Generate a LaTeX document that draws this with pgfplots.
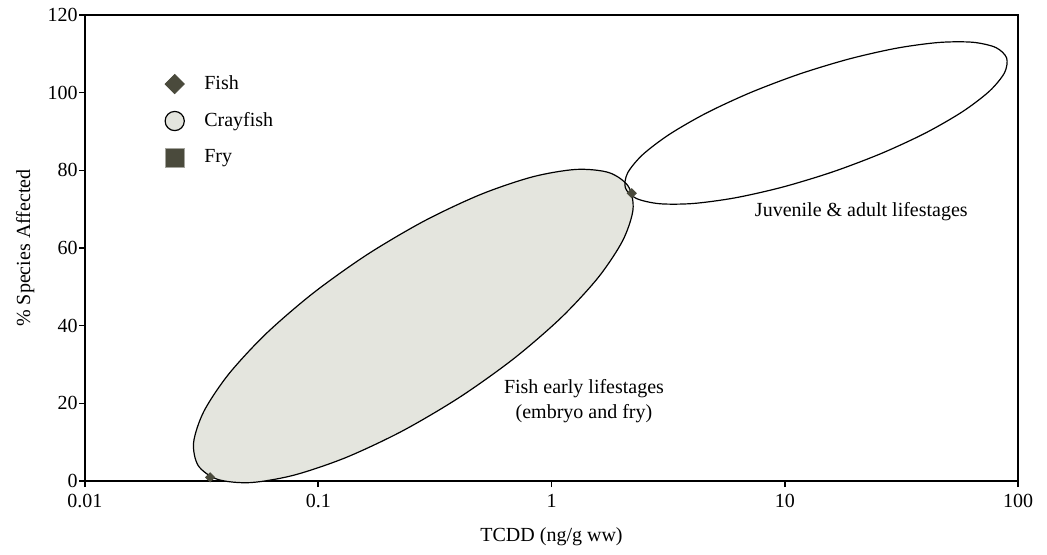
\documentclass[border=0pt]{standalone}
\usepackage{fontspec}
\setmainfont{Liberation Serif}
\usepackage{pgfplots}
\pgfplotsset{compat=1.18}
\definecolor{fishcol}{RGB}{74,74,60}
\definecolor{ellfill}{RGB}{228,229,222}
\begin{document}
\begin{tikzpicture}[font=\fontsize{10}{12}\selectfont]
\path[use as bounding box] (-42.5pt,-36.5pt) rectangle (481pt,240.5pt);
\begin{axis}[
  scale only axis, width=466.5pt, height=233pt,
  xmode=log, xmin=0.01, xmax=100, ymin=0, ymax=120,
  xtick={0.01,0.1,1,10,100}, xticklabels={0.01,0.1,1,10,100},
  ytick={0,20,40,60,80,100,120},
  minor tick style={draw=none},
  tick align=outside, major tick length=3pt,
  xtick pos=bottom, ytick pos=left,
  axis line style={line width=0.8pt},
  major tick style={line width=0.8pt, black},
  /pgf/number format/assume math mode=true,
  yticklabel style={inner xsep=0pt, xshift=-0.5pt},
  xlabel={TCDD (ng/g ww)},
  ylabel={\% Species Affected},
  xlabel style={at={(axis description cs:0.5,-0.12)}, anchor=center},
  ylabel style={at={(axis description cs:-0.064,0.5)}, anchor=center},
  clip=false,
  legend style={at={(axis description cs:0.079,0.888)}, anchor=north west,
    draw=none, fill=none, row sep=6pt, font=\fontsize{10}{12}\selectfont,
    /tikz/every odd column/.style={column sep=8pt}},
  legend cell align=left,
]
\addplot[draw=black, line width=0.6pt, fill=ellfill, smooth cycle, forget plot] coordinates {
(2.135,75.88) (1.765,79.41) (1.278,80.24) (0.8300,78.33) (0.4973,73.80) (0.2847,66.96)
(0.1618,58.28) (0.09489,48.34) (0.05953,37.84) (0.04124,27.47) (0.03235,17.96) (0.02922,9.93)
(0.03059,3.96) (0.03701,0.43) (0.05110,-0.41) (0.07870,1.51) (0.13135,6.04) (0.2294,12.88)
(0.4036,21.56) (0.6883,31.49) (1.0973,42.00) (1.5838,52.36) (2.0189,61.88) (2.2358,69.90)
};
\addplot[draw=black, line width=0.6pt, smooth cycle, forget plot] coordinates {
(89.38,108.93) (80.34,111.62) (63.97,112.98) (45.85,112.93) (30.25,111.47) (18.90,108.69)
(11.55,104.79) (7.136,100.03) (4.607,94.74) (3.203,89.27) (2.457,84.01) (2.119,79.30)
(2.074,75.46) (2.307,72.78) (2.897,71.41) (4.043,71.46) (6.128,72.92) (9.806,75.70)
(16.05,79.60) (25.97,84.36) (40.23,89.65) (57.86,95.12) (75.42,100.39) (87.47,105.10)
};
\addplot[only marks, mark=square*, mark size=1.6pt, mark options={rotate=45, fill=fishcol, draw=fishcol}, forget plot] coordinates {(0.0344,0.95) (2.207,74.1)};
\addlegendimage{only marks, mark=square*, mark size=3.4pt, mark options={rotate=45, fill=fishcol, draw=fishcol}}
\addlegendentry{Fish}
\addlegendimage{only marks, mark=*, mark size=4.8pt, mark options={fill=ellfill, draw=black, line width=0.6pt}}
\addlegendentry{Crayfish}
\addlegendimage{only marks, mark=square*, mark size=4.8pt, mark options={fill=fishcol, draw=fishcol!50, line width=0.4pt}}
\addlegendentry{Fry}
\node[align=center, font=\fontsize{10}{12.5}\selectfont] at (axis cs:1.378,20.7) {Fish early lifestages\\(embryo and fry)};
\node at (axis cs:21.3,69.4) {Juvenile \& adult lifestages};
\end{axis}
\end{tikzpicture}
\end{document}
